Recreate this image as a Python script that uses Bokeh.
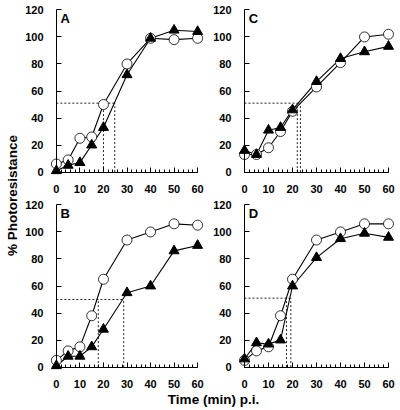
import math
from bokeh.plotting import figure
from bokeh.layouts import row, column
from bokeh.models import FixedTicker, Label, Range1d, LinearAxis
from bokeh.embed import file_html
from bokeh.resources import INLINE

# ---- data ----
time_min = [0, 5, 10, 15, 20, 30, 40, 50, 60]

a_circle = [6, 9, 25, 26, 50, 80, 99, 98, 99]
a_triangle = [1, 5, 7, 20, 33, 72, 99, 105, 104]
a_half_level = 51
a_half_times = [20, 24.8]

b_circle = [5, 12, 15, 38, 65, 94, 100, 106, 105]
b_triangle = [1, 8, 8, 15, 28, 55, 60, 86, 90]
b_half_level = 50
b_half_times = [17.8, 28.6]

c_circle = [13, 13, 18, 30, 45, 63, 81, 100, 102]
c_triangle = [16, 13, 31, 33, 46, 67, 84, 89, 93]
c_half_level = 51
c_half_times = [22, 23.3]

d_circle = [5, 12, 15, 38, 65, 94, 100, 106, 106]
d_triangle = [6, 18, 17, 20, 60, 81, 95, 99, 96]
d_half_level = 51
d_half_times = [17.5, 19.3]

x_ticks = [0, 10, 20, 30, 40, 50, 60]
x_minor = list(range(0, 61, 2))
y_ticks = [0, 20, 40, 60, 80, 100, 120]

FONT = "Liberation Sans"
PADX = 2.5   # data units of padding so edge markers are not clipped
PADY = 4.0


def style_labels(ax, standoff):
    ax.axis_line_color = None
    ax.major_tick_line_color = None
    ax.minor_tick_line_color = None
    ax.major_label_text_font = FONT
    ax.major_label_text_font_style = "bold"
    ax.major_label_text_font_size = "11px"
    ax.major_label_text_color = "black"
    ax.major_label_standoff = standoff


def make_panel(letter, circ, tri, level, times, lb, rb, tb, bb):
    fw = round(144 * (60 + 2 * PADX) / 60)
    fh = round(163 * (120 + 2 * PADY) / 120)
    p = figure(width=lb + fw + rb, height=tb + fh + bb,
               x_range=Range1d(-PADX, 60 + PADX), y_range=Range1d(-PADY, 120 + PADY),
               output_backend="svg", toolbar_location=None,
               min_border_left=lb, min_border_right=rb,
               min_border_top=tb, min_border_bottom=bb)
    p.outline_line_color = None
    p.grid.visible = False
    p.background_fill_color = "white"

    # axis lines + ticks, crossing at the origin
    for ax in (p.xaxis[0], p.yaxis[0]):
        ax.fixed_location = 0
        ax.axis_line_color = "black"
        ax.axis_line_width = 1
        ax.major_tick_line_color = "black"
        ax.major_tick_in = 5
        ax.major_tick_out = 0
        ax.major_label_text_font_size = "0px"
        ax.major_label_text_alpha = 0
        ax.major_label_standoff = 0
    p.xaxis[0].bounds = (0, 60)
    p.yaxis[0].bounds = (0, 120)
    p.xaxis[0].ticker = FixedTicker(ticks=x_ticks, minor_ticks=x_minor)
    p.xaxis[0].minor_tick_in = 3
    p.xaxis[0].minor_tick_out = 0
    p.xaxis[0].minor_tick_line_color = "black"
    p.yaxis[0].ticker = FixedTicker(ticks=y_ticks, minor_ticks=[])

    # tick labels on the frame edges
    xlab_ax = LinearAxis(ticker=FixedTicker(ticks=x_ticks, minor_ticks=[]))
    style_labels(xlab_ax, 1)
    ylab_ax = LinearAxis(ticker=FixedTicker(ticks=y_ticks, minor_ticks=[]))
    style_labels(ylab_ax, 1)
    p.below = [xlab_ax] + list(p.below)
    p.left = [ylab_ax] + list(p.left)

    # half-max guide lines
    p.segment(x0=[0], y0=[level], x1=[max(times)], y1=[level],
              line_color="#222222", line_width=1, line_dash="2 2")
    p.segment(x0=times, y0=[0] * len(times), x1=times, y1=[level] * len(times),
              line_color="#222222", line_width=1, line_dash="2 2")

    p.line(time_min, circ, line_color="black", line_width=1.1)
    p.line(time_min, tri, line_color="black", line_width=1.1)
    p.scatter(time_min, circ, marker="circle", size=10, fill_color="white",
              line_color="black", line_width=0.8)
    p.scatter(time_min, tri, marker="triangle", size=10, fill_color="black",
              line_color="black")

    p.add_layout(Label(x=1.8, y=114, text=letter, text_font=FONT,
                       text_font_style="bold", text_font_size="13px",
                       text_color="black",
                       text_baseline="middle", text_align="left"))
    return p


pA = make_panel("A", a_circle, a_triangle, a_half_level, a_half_times, 25, 2, 4, 17)
pC = make_panel("C", c_circle, c_triangle, c_half_level, c_half_times, 33, 6, 4, 17)
pB = make_panel("B", b_circle, b_triangle, b_half_level, b_half_times, 25, 2, 4, 17)
pD = make_panel("D", d_circle, d_triangle, d_half_level, d_half_times, 33, 6, 4, 17)


def blank(w, h):
    f = figure(width=w, height=h, x_range=Range1d(0, 1), y_range=Range1d(0, 1),
               output_backend="svg", toolbar_location=None, min_border=0)
    f.axis.visible = False
    f.grid.visible = False
    f.outline_line_color = None
    return f


ylab = blank(22, 388)
ylab.add_layout(Label(x=12, y=388 - 195, x_units="screen", y_units="screen",
                      text="% Photoresistance", angle=math.pi / 2,
                      text_font=FONT, text_font_style="bold", text_color="black",
                      text_font_size="13.5px", text_align="center",
                      text_baseline="middle"))

xlab = blank(400, 22)
xlab.add_layout(Label(x=213, y=13, x_units="screen", y_units="screen",
                      text="Time (min) p.i.", text_font=FONT, text_color="black",
                      text_font_style="bold", text_font_size="13.5px",
                      text_align="center", text_baseline="middle"))

grid = column(row(pA, pC), row(pB, pD))
root = column(row(ylab, grid), xlab)

open("out.html", "w").write(file_html(root, INLINE))
